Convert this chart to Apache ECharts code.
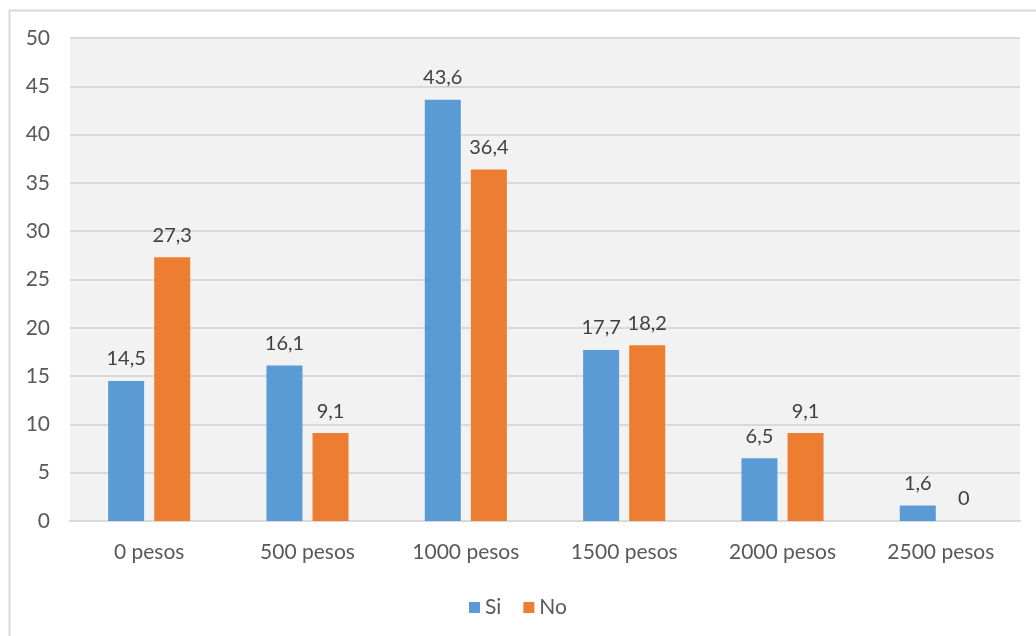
<!DOCTYPE html>
<html>
<head>
<meta charset="utf-8">
<script src="https://cdn.jsdelivr.net/npm/echarts@6/dist/echarts.min.js"></script>
<style>
  html, body { margin: 0; padding: 0; background: #fff; }
  #chart { width: 1036px; height: 636px; }
</style>
</head>
<body>
<div id="chart"></div>
<script>
// categorias y valores (%)
var categorias = ['0 pesos', '500 pesos', '1000 pesos', '1500 pesos', '2000 pesos', '2500 pesos'];
var valoresSi = [14.5, 16.1, 43.6, 17.7, 6.5, 1.6];
var valoresNo = [27.3, 9.1, 36.4, 18.2, 9.1, 0];

var fuente = "Lato, 'Open Sans', sans-serif";

var etiqueta = {
  show: true,
  position: 'top',
  distance: 12,
  color: '#404040',
  fontSize: 20,
  fontFamily: fuente,
  formatter: function (p) {
    return String(p.value).replace('.', ',');
  }
};

var myChart = echarts.init(document.getElementById('chart'));

var option = {
  animation: false,
  backgroundColor: '#fff',
  graphic: [{
    type: 'rect',
    left: 7, top: 8,
    shape: { width: 1040, height: 640 },
    style: { fill: 'none', stroke: '#d9d9d9', lineWidth: 2 },
    z: -1
  }],
  grid: {
    left: 70, right: 16, top: 38, bottom: 115,
    show: true,
    backgroundColor: '#f2f2f2',
    borderWidth: 0
  },
  legend: {
    bottom: 13,
    left: 'center',
    itemWidth: 11,
    itemHeight: 11,
    itemGap: 22,
    icon: 'rect',
    textStyle: { color: '#595959', fontSize: 21, fontFamily: fuente },
    data: ['Si', 'No']
  },
  xAxis: {
    type: 'category',
    data: categorias,
    axisLine: { show: true, lineStyle: { color: '#d9d9d9', width: 2 } },
    axisTick: { show: false },
    axisLabel: { color: '#595959', fontSize: 21, fontFamily: fuente, margin: 21 }
  },
  yAxis: {
    type: 'value',
    min: 0, max: 50, interval: 5,
    axisLine: { show: false },
    axisTick: { show: false },
    splitLine: { lineStyle: { color: '#d9d9d9', width: 2 } },
    axisLabel: { color: '#595959', fontSize: 21, fontFamily: fuente, margin: 20 }
  },
  series: [
    {
      name: 'Si', type: 'bar', data: valoresSi,
      barWidth: 36, barGap: '28%',
      itemStyle: { color: '#5b9bd5' },
      label: etiqueta
    },
    {
      name: 'No', type: 'bar', data: valoresNo,
      barWidth: 36,
      itemStyle: { color: '#ed7d31' },
      label: etiqueta
    }
  ]
};

myChart.setOption(option);
</script>
</body>
</html>
